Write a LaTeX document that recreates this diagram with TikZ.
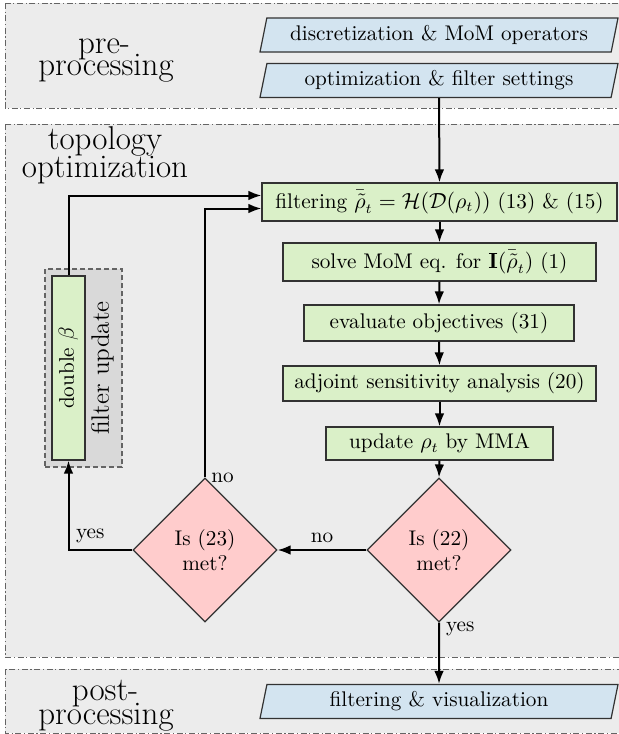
\documentclass[tikz,border=0pt]{standalone}
\usetikzlibrary{shapes.geometric,arrows.meta,calc}
\definecolor{bandfill}{RGB}{236,236,236}
\definecolor{bandline}{RGB}{100,100,100}
\definecolor{grpfill}{RGB}{217,217,217}
\definecolor{boxgreen}{RGB}{218,240,200}
\definecolor{boxblue}{RGB}{211,228,240}
\definecolor{boxpink}{RGB}{255,204,204}
\definecolor{boxline}{RGB}{50,50,50}
\begin{document}
\begin{tikzpicture}[x=0.5pt,y=-0.5pt,
  band/.style={fill=bandfill,draw=bandline,line width=0.5pt,dash pattern=on 3pt off 1.3pt on 0.6pt off 1.3pt},
  bandlabel/.style={font=\fontsize{16.5}{19}\selectfont,anchor=base,inner sep=0pt},
  boxtext/.style={font=\fontsize{10.6}{12.7}\selectfont},
  procbox/.style={boxtext,draw=boxline,fill=boxgreen,line width=0.6pt,inner sep=0pt},
  iobox/.style={boxtext,trapezium,trapezium left angle=70.5,trapezium right angle=109.5,trapezium stretches body,draw=boxline,fill=boxblue,line width=0.6pt,inner sep=0pt,minimum height=17pt,minimum width=179pt},
  decision/.style={boxtext,diamond,aspect=1,draw=boxline,fill=boxpink,line width=0.6pt,inner sep=0pt,minimum width=72pt,minimum height=72pt,align=center},
  grpbox/.style={draw=bandline,fill=grpfill,line width=0.6pt,dash pattern=on 2.5pt off 1.5pt,inner sep=0pt},
  flow/.style={-{Latex[length=6.5pt,width=4.8pt]},line width=1pt},
  edgelabel/.style={boxtext,inner sep=3pt}
]
\useasboundingbox (0,0) rectangle (619,734);
% bands
\path[band] (5,3) rectangle (622,108);
\path[band] (5,124) rectangle (622,657);
\path[band] (5,669) rectangle (622,733);
% band labels
\node[bandlabel] (lpre1) at (104,53) {pre-};
\node[bandlabel] (lpre2) at (106,75) {processing};
\node[bandlabel] (ltop1) at (105,149) {topology};
\node[bandlabel] (ltop2) at (105,177) {optimization};
\node[bandlabel] (lpost1) at (105,700) {post-};
\node[bandlabel] (lpost2) at (106,724) {processing};
% input / output
\node[iobox] (p1) at (439,35) {discretization \& MoM operators};
\node[iobox] (p2) at (439,80.5) {optimization \& filter settings};
\node[iobox] (p3) at (439,701.5) {filtering \& visualization};
% process boxes
\node[procbox,minimum width=177.5pt,minimum height=19pt] (filt) at (439.5,202) {filtering $\bar{\tilde{\rho}}_t=\mathcal{H}(\mathcal{D}(\rho_t))$ (13) \& (15)};
\node[procbox,minimum width=156.5pt,minimum height=19pt] (solve) at (439.5,262) {solve MoM eq. for $\mathbf{I}(\bar{\tilde{\rho}}_t)$ (1)};
\node[procbox,minimum width=135pt,minimum height=18pt] (evalobj) at (439,323) {evaluate objectives (31)};
\node[procbox,minimum width=156.5pt,minimum height=17.5pt] (adj) at (439.5,383.5) {adjoint sensitivity analysis (20)};
\node[procbox,minimum width=113.5pt,minimum height=16.5pt] (upd) at (439.5,443.5) {update $\rho_t$ by MMA};
% decisions
\node[decision] (d22) at (439,550) {Is (22)\\met?};
\node[decision] (d23) at (205,550) {Is (23)\\met?};
% filter update group
\node[grpbox,minimum width=38.5pt,minimum height=99pt] (grp) at (83.5,368) {};
\node[procbox,rotate=90,minimum width=92pt,minimum height=16.5pt] (dbeta) at (68.5,368) {double $\beta$};
\node[font=\fontsize{12.6}{14}\selectfont,rotate=90,inner sep=0pt] (fupd) at (102.5,368) {filter update};
% connectors
\draw[flow] (p2.south) -- (filt.north);
\draw[flow] (filt.south) -- (solve.north);
\draw[flow] (solve.south) -- (evalobj.north);
\draw[flow] (evalobj.south) -- (adj.north);
\draw[flow] (adj.south) -- (upd.north);
\draw[flow] (upd.south) -- (d22.north);
\draw[flow] (d22.west) -- node[edgelabel,above] (lno1) {no} (d23.east);
\draw[flow] (d22.south) -- node[edgelabel,pos=0.1,right] (lyes1) {yes} (p3.north);
\draw[flow] (d23.west) -| node[edgelabel,pos=0.33,above] (lyes2) {yes} (dbeta.west);
\draw[flow] (dbeta.east) |- ([yshift=3.25pt]filt.west);
\draw[flow] (d23.north) |- ([yshift=-3.25pt]filt.west);
\node[edgelabel,anchor=west] (lno2) at (d23.north) {no};
\end{tikzpicture}
\end{document}
